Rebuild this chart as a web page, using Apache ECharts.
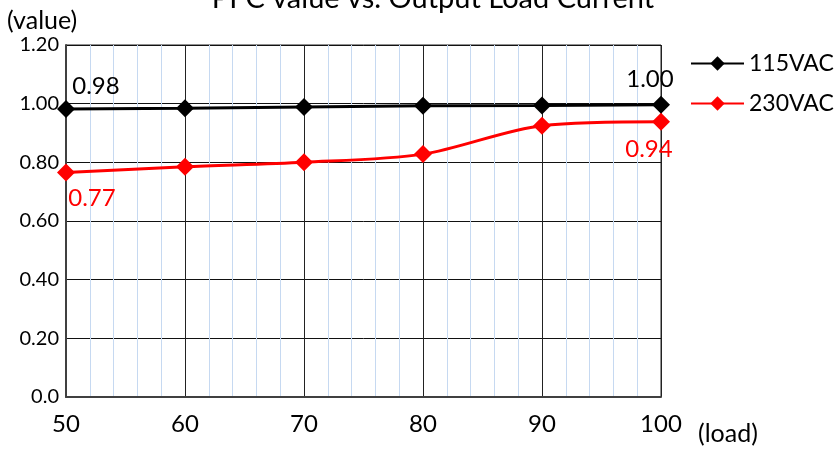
<!DOCTYPE html>
<html>
<head>
<meta charset="utf-8">
<script src="https://cdn.jsdelivr.net/npm/echarts@6/dist/echarts.min.js"></script>
<style>html,body{margin:0;padding:0;background:#fff}#c{width:835px;height:449px}</style>
</head>
<body>
<div id="c"></div>
<script>
var loads = [50, 60, 70, 80, 90, 100];
var v115 = [0.982, 0.984, 0.989, 0.993, 0.994, 0.996];
var v230 = [0.765, 0.785, 0.800, 0.828, 0.925, 0.938];
var yTicks = ['0.0', '0.20', '0.40', '0.60', '0.80', '1.00', '1.20'];
var titleText = 'PFC value vs. Output Load Current';
var FONT = 'Lato';

function pts(vals, labels) {
  return loads.map(function (x, i) {
    var d = { value: [x, vals[i]] };
    if (labels[i]) d.label = labels[i];
    return d;
  });
}
function fmt(p) { return p.value[1].toFixed(2); }
var lbl115 = {
  0: { show: true, position: 'top', distance: 2, offset: [30, 0], color: '#000', fontSize: 24, fontFamily: FONT, formatter: fmt },
  5: { show: true, position: 'top', distance: 5, offset: [-11, 0], color: '#000', fontSize: 24, fontFamily: FONT, formatter: fmt }
};
var lbl230 = {
  0: { show: true, position: 'bottom', distance: 5, offset: [26, 0], color: '#ff0000', fontSize: 24, fontFamily: FONT, formatter: fmt },
  5: { show: true, position: 'bottom', distance: 6, offset: [-12, 0], color: '#ff0000', fontSize: 24, fontFamily: FONT, formatter: fmt }
};

var chart = echarts.init(document.getElementById('c'));
chart.setOption({
  animation: false,
  backgroundColor: '#fff',
  textStyle: { fontFamily: FONT },
  title: [
    {
      text: titleText,
      left: 433, top: -16, textAlign: 'center', padding: 0,
      textStyle: { fontSize: 29, fontWeight: 'normal', color: '#000', fontFamily: FONT }
    },
    {
      text: '(value)', left: 7, top: 8, padding: 0,
      textStyle: { fontSize: 25, fontWeight: 'normal', color: '#000', fontFamily: FONT }
    },
    {
      text: '(load)', left: 698, top: 421, padding: 0,
      textStyle: { fontSize: 25, fontWeight: 'normal', color: '#000', fontFamily: FONT }
    }
  ],
  legend: {
    orient: 'vertical',
    left: 690, top: 52, padding: 0,
    itemWidth: 53, itemHeight: 18, itemGap: 17,
    textStyle: { fontSize: 23, color: '#000', fontFamily: FONT },
    data: ['115VAC', '230VAC']
  },
  grid: {
    left: 66, right: 174, top: 45, bottom: 52,
    show: true, borderColor: '#222', borderWidth: 1
  },
  xAxis: {
    type: 'value', min: 50, max: 100, interval: 10,
    axisLine: { show: true, lineStyle: { color: '#404040', width: 2 } },
    axisTick: { show: false },
    axisLabel: { fontSize: 24, color: '#000', margin: 15, fontFamily: FONT },
    splitLine: { show: true, lineStyle: { color: '#222', width: 1 } },
    minorTick: { show: false, splitNumber: 5 },
    minorSplitLine: { show: true, lineStyle: { color: '#c6d9f1', width: 1 } }
  },
  yAxis: {
    type: 'value', min: 0, max: 1.2, interval: 0.2,
    axisLine: { show: true, lineStyle: { color: '#404040', width: 2 } },
    axisTick: { show: false },
    axisLabel: {
      fontSize: 20, color: '#000', margin: 7, fontFamily: FONT,
      formatter: function (v) { return yTicks[Math.round(v / 0.2)]; }
    },
    splitLine: { show: true, lineStyle: { color: '#111', width: 1 } }
  },
  series: [
    {
      name: '115VAC', type: 'line',
      data: pts(v115, lbl115),
      symbol: 'diamond', symbolSize: 18,
      lineStyle: { color: '#000', width: 3 },
      itemStyle: { color: '#000' },
      z: 3
    },
    {
      name: '230VAC', type: 'line', smooth: 0.3,
      data: pts(v230, lbl230),
      symbol: 'diamond', symbolSize: 18,
      lineStyle: { color: '#ff0000', width: 3 },
      itemStyle: { color: '#ff0000' },
      z: 4
    }
  ]
});
</script>
</body>
</html>
